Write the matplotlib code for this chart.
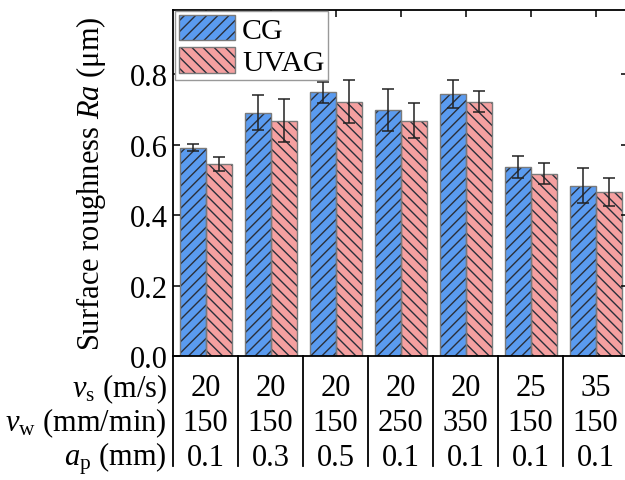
import matplotlib
matplotlib.use("Agg")
import matplotlib.pyplot as plt
import matplotlib.transforms as mtransforms
import numpy as np

# datos
cg_ra = [0.592, 0.691, 0.749, 0.698, 0.745, 0.537, 0.484]
cg_err = [0.010, 0.050, 0.030, 0.060, 0.040, 0.030, 0.050]
uvag_ra = [0.546, 0.669, 0.723, 0.669, 0.722, 0.518, 0.467]
uvag_err = [0.020, 0.060, 0.060, 0.050, 0.030, 0.030, 0.040]

vs_vals = ["20", "20", "20", "20", "20", "25", "35"]
vw_vals = ["150", "150", "150", "250", "350", "150", "150"]
ap_vals = ["0.1", "0.3", "0.5", "0.1", "0.1", "0.1", "0.1"]
fila_labels = [r"$v_{\rm s}$ (m/s)", r"$v_{\rm w}$ (mm/min)", r"$a_{\rm p}$ (mm)"]

plt.rcParams["font.family"] = ["Liberation Serif", "DejaVu Serif"]
plt.rcParams["mathtext.fontset"] = "custom"
plt.rcParams["mathtext.rm"] = "Liberation Serif"
plt.rcParams["mathtext.it"] = "Liberation Serif:italic"
plt.rcParams["font.size"] = 22
plt.rcParams["hatch.linewidth"] = 1.0

azul = "#5a9bf0"
rosa = "#f5a0a0"
color_trama = "#2a2f3a"
color_borde = "#7a7a7a"

fig = plt.figure(figsize=(6.25, 4.81), dpi=100)
ax = fig.add_axes([173 / 625, 124 / 481, 455 / 625, 346 / 481])

x = np.arange(len(cg_ra))
ancho = 0.4

# relleno con trama
b1 = ax.bar(x - ancho / 2, cg_ra, ancho, color=azul, hatch="///",
            edgecolor=color_trama, linewidth=0)
b2 = ax.bar(x + ancho / 2, uvag_ra, ancho, color=rosa, hatch="\\\\\\",
            edgecolor=color_trama, linewidth=0)
# contorno gris
o1 = ax.bar(x - ancho / 2, cg_ra, ancho, fill=False, edgecolor=color_borde,
            linewidth=1.0)
o2 = ax.bar(x + ancho / 2, uvag_ra, ancho, fill=False, edgecolor=color_borde,
            linewidth=1.0)

ax.errorbar(x - ancho / 2, cg_ra, yerr=cg_err, fmt="none", ecolor="#222222",
            elinewidth=1.1, capsize=4, capthick=1.1)
ax.errorbar(x + ancho / 2, uvag_ra, yerr=uvag_err, fmt="none", ecolor="#222222",
            elinewidth=1.1, capsize=4, capthick=1.1)

ax.set_xlim(-0.5, len(x) - 0.5)
ax.set_ylim(0, 0.983)
ax.set_yticks([0.0, 0.2, 0.4, 0.6, 0.8])
ax.set_yticklabels(["0.0", "0.2", "0.4", "0.6", "0.8"])
ax.set_xticks(x)
ax.tick_params(axis="y", direction="in", length=5, width=1.1, right=True, pad=4)
ax.tick_params(axis="x", direction="in", length=5, width=1.1, top=True,
               bottom=False, labelbottom=False)
for s in ax.spines.values():
    s.set_linewidth(1.3)

ax.set_ylabel(r"Surface roughness $Ra$ ($\mathrm{\mu}$m)")
ax.yaxis.set_label_coords(-0.143, 0.5)

leg = ax.legend([(b1, o1), (b2, o2)], ["CG", "UVAG"], loc="upper left",
                bbox_to_anchor=(0.004, 0.997), borderaxespad=0, fancybox=False,
                edgecolor="#999999", framealpha=1, handlelength=1.9,
                handleheight=0.92, labelspacing=0.12, borderpad=0.13,
                handletextpad=0.22, fontsize=21.5)
leg.get_frame().set_linewidth(1.0)

# tabla de parametros debajo del eje
trans = mtransforms.blended_transform_factory(ax.transData, ax.transAxes)
filas_y = [-0.092, -0.192, -0.293]
for fila, valores in zip(filas_y, [vs_vals, vw_vals, ap_vals]):
    for xi, v in zip(x, valores):
        ax.text(xi, fila, v, transform=trans, ha="center", va="center",
                clip_on=False)
for fila, etiqueta in zip(filas_y, fila_labels):
    ax.text(-0.013, fila, etiqueta, transform=ax.transAxes, ha="right",
            va="center", clip_on=False, fontsize=22)
for xb in np.arange(-0.5, len(x) - 0.5, 1.0):
    ax.plot([xb, xb], [0, -0.318], transform=trans, color="black",
            linewidth=1.3, clip_on=False)

fig.savefig("out.png", dpi=100)
